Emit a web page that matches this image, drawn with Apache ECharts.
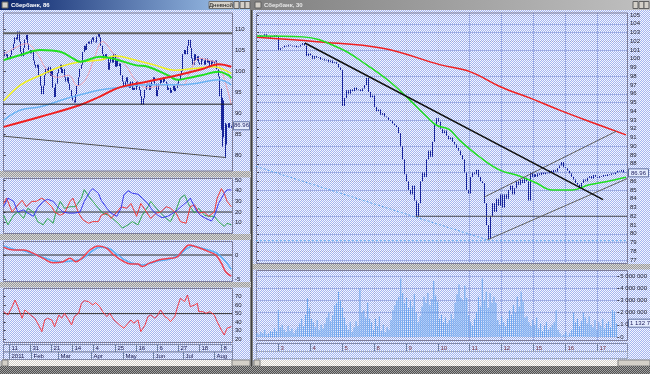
<!DOCTYPE html>
<html><head><meta charset="utf-8">
<script src="https://cdn.jsdelivr.net/npm/echarts@6/dist/echarts.min.js"></script>
<style>html,body{margin:0;padding:0;background:#c0c0c0}#c{width:650px;height:374px}</style>
</head><body><div id="c"></div>
<script>
// ================= DATA =================
// Left panel: daily bars (Jan 2011 - 17 Aug 2011), closes
const leftClose = [
104.5,103.5,104.0,103.0,102.8,103.8,105.0,106.5,108.0,107.5,
109.4,107.0,104.5,103.5,105.5,107.5,108.6,106.5,105.0,104.2,
105.0,102.5,101.5,100.8,101.5,99.0,96.5,94.5,96.5,99.0,
100.5,99.5,101.0,98.8,100.0,96.0,93.8,97.0,99.5,100.5,
101.5,99.5,100.5,98.5,97.5,98.5,97.0,95.5,94.0,93.0,
92.5,94.5,96.5,98.5,100.5,101.5,104.5,106.0,105.0,106.5,
107.0,106.5,107.5,108.0,107.0,106.8,108.2,109.0,108.0,106.0,
104.0,102.8,104.0,103.0,100.3,102.0,103.5,102.0,104.0,101.0,
102.5,101.2,101.8,99.0,97.5,96.2,97.5,98.5,97.0,96.0,
97.5,95.5,96.0,95.5,97.5,96.3,95.5,94.0,92.0,93.5,
95.5,96.5,97.0,95.5,96.5,97.5,98.5,97.0,94.0,95.5,
97.0,98.0,97.2,98.5,97.5,97.0,95.5,96.0,94.8,95.5,
96.5,95.2,96.0,97.0,98.0,99.0,100.0,104.0,105.0,104.0,
106.0,107.4,105.5,103.0,101.5,104.0,102.5,103.5,102.0,101.5,
103.0,102.5,101.5,103.0,102.0,102.5,101.0,102.5,101.8,102.3,
102.5,100.4,98.7,95.8,86.8,93.0,84.6,84.0,86.5,87.6,86.5,86.96];
// [barIndex, low, high] of the wide August bars
const leftRange = [[153,94.0,98.7],[154,86.0,95.8],[155,82.0,93.6],[156,84.2,93.0],[157,79.3,87.6],[158,82.5,87.3]];
const leftRedMA = [[0,86.7],[26,89.1],[54,91.9],[68,93.9],[82,96.1],[102,97.5],[123,99],[140,100.4],[152,101.6],[161,101]];
const leftBlueMA = [[0,88.3],[12,90.7],[26,91.5],[45,93.5],[68,95.5],[82,96.1],[102,96.7],[126,96.7],[137,97.1],[152,97.9],[161,96.7]];
const leftYellowMA = [[0,92.9],[12,96.7],[26,99],[40,101],[54,102.2],[68,102.6],[79,103.6],[93,102.6],[107,101.4],[121,100.2],[135,100.6],[149,101],[159,99.8],[161,99.4]];
const leftGreenMA = [[0,102.6],[12,103.8],[26,105],[40,104.6],[49,103],[54,102.2],[68,103.4],[79,102.8],[93,101.4],[102,101],[116,99],[123,97.9],[130,98.3],[140,99],[152,99.8],[159,99],[161,98.3]];
const leftPinkMA = [[0,104],[8,105.5],[16,106.5],[24,104],[30,100.5],[38,98.5],[46,99],[52,96.5],[58,98],[64,103],[70,107],[78,104],[86,101.5],[94,97.5],[102,96],[110,96.5],[118,96.8],[126,96.5],[132,100],[138,103],[146,102.5],[152,101.5],[157,97],[161,92]];
const leftLevels = [109.0, 92.1];
const leftDiag = [[-0.5,84.5],[157,79.4]];
// DMI panel
const dmiBlue = [[0,25],[3,33],[7,30],[10,20],[14,22],[17,19],[21,16],[24,24],[28,30],[31,32],[35,30],[38,25],[42,20],[46,19],[50,19],[54,20],[57,30],[61,39],[63,42],[67,37.6],[69,31],[73,23.5],[76,19],[80,16],[83,23.5],[85,36],[88,40],[91,37.6],[95,36.7],[98,33],[102,28],[105,22],[109,17],[112,14.7],[116,16],[120,19],[123,22],[127,26.7],[130,30],[132,33],[136,22],[139,17],[143,14],[147,11.6],[149,16],[152,28],[156,37.6],[158,40.7],[161,40.7]];
const dmiRed = [[0,28],[2,33],[6,20],[9,25],[13,31],[16,25],[20,30],[23,30],[27,33],[30,30],[34,25],[36,20],[40,17],[43,19],[47,30],[49,33],[53,19],[56,12.7],[60,9.5],[63,11],[67,11],[69,17],[73,19],[76,14],[80,20],[83,25],[87,23.5],[90,28],[94,16],[97,28],[101,20],[104,14],[108,19],[111,20],[115,25],[118,23.5],[122,19],[125,11],[129,9.5],[132,25],[135,26.7],[138,19],[142,20],[145,16],[149,20],[151,33],[154,42],[156,37.6],[158,30],[161,25]];
const dmiGreen = [[0,17],[3,8],[7,17],[10,20],[14,14],[17,23.5],[21,20],[24,11],[28,8],[31,14],[35,9.5],[37,20],[40,30],[43,23.5],[47,25],[51,25],[55,33],[57,41],[60,35],[63,30],[67,23.5],[70,19],[74,17],[77,14],[81,9.5],[84,5],[88,8],[91,11],[95,8],[98,17],[102,25],[104,30],[108,23.5],[111,19],[115,14],[118,11],[122,22],[125,33],[128,36],[131,26.7],[135,19],[138,23.5],[142,17],[145,16],[149,16],[152,11],[156,6.5],[158,9.5],[161,8]];
const dmiLevel = 20;
// MACD panel
const macdRed = [[0,1.6],[7,1.04],[14,1.04],[21,0.35],[28,-0.7],[35,-1.6],[42,-1.4],[47,-0.7],[51,-1.4],[56,-0.5],[61,1.04],[67,1.9],[73,1.4],[78,0],[84,-1.2],[90,-1.9],[95,-1.9],[98,-2.4],[103,-1.7],[108,-1.2],[112,-0.9],[117,-0.7],[122,-0.5],[127,1.04],[131,2.1],[136,1.7],[141,1.2],[145,0.7],[150,0],[154,-1.7],[157,-3.5],[161,-4.4]];
const macdBlue = [[0,1.9],[7,1.2],[14,0.9],[21,0.2],[28,-0.5],[35,-1.2],[42,-1.4],[49,-1.2],[56,-0.7],[62,0.7],[68,1.6],[74,1.4],[80,0.2],[85,-0.9],[91,-1.7],[98,-2.1],[104,-1.7],[110,-1.2],[117,-0.9],[124,0],[129,1.2],[134,1.9],[138,1.6],[145,1.04],[151,0.35],[156,-1.0],[161,-3.0]];
const macdLevel = 0;
// RSI panel
const rsiRed = [[0,52.3],[3,48.4],[6,58.2],[8,66.1],[10,58.2],[13,44.5],[15,54.3],[19,48.4],[22,44.5],[24,38.6],[27,28.7],[29,42.5],[31,44.5],[34,42.5],[36,34.6],[39,48.4],[41,44.5],[43,50.4],[46,42.5],[48,36.6],[50,46.5],[53,50.4],[55,62.2],[57,65.3],[60,64.2],[63,60.2],[65,63],[68,58.2],[70,52.3],[73,46.5],[75,50.4],[78,42.5],[82,36.6],[85,32.7],[88,38.6],[90,42.5],[92,38.6],[95,42.5],[97,28.7],[100,36.6],[102,46.5],[104,48.4],[107,44.5],[109,48.4],[111,54.3],[114,46.5],[116,44.5],[118,40.5],[121,46.5],[123,58.2],[125,68.1],[128,64.2],[130,72],[132,58.2],[135,60.2],[137,62.2],[138,52.3],[141,52.3],[143,50.4],[146,52.3],[149,48.4],[151,40.5],[154,30.6],[156,24.7],[158,32.7],[161,34.6]];
const rsiLevel = 50;
// Left date axis
const leftDayTicks = [4,19,34,49,64,79,94,109,124,139,154];
const leftDayLabels = ['11','31','21','14','4','25','16','6','27','18','8'];
const leftMonthTicks = [4,20,39,62,85,106,127,149];
const leftMonthLabels = ['2011','Feb','Mar','Apr','May','Jun','Jul','Aug'];

// Right panel: 30-minute bars, 2 Aug - 17 Aug 2011
const rightClose = [
102.6,102.7,102.5,102.6,102.8,102.5,102.4,102.6,102.5,102.7,102.5,
101.0,101.2,101.3,101.5,101.4,101.6,101.5,101.4,101.5,101.3,101.4,101.6,101.8,101.5,100.3,100.6,
100.4,100.0,100.3,100.1,100.2,99.9,100.0,99.8,99.9,99.6,99.8,99.5,99.6,99.4,99.0,98.7,
94.6,95.5,96.4,96.0,96.5,96.3,96.7,96.4,96.5,96.3,96.6,97.0,97.8,96.2,95.6,95.8,
94.5,94.0,94.2,93.6,93.8,93.4,93.3,93.0,92.9,92.6,92.4,92.2,91.5,90.0,88.5,86.8,
86.0,85.0,84.5,85.5,83.8,82.0,83.5,86.0,87.0,86.5,88.5,89.5,88.8,90.5,92.5,93.2,
92.8,92.0,91.5,91.8,91.2,90.8,91.0,90.5,90.2,89.8,89.5,89.0,88.5,87.0,85.0,84.6,
86.5,87.0,86.8,87.3,86.5,86.0,85.8,83.5,81.0,79.4,82.0,83.5,82.5,84.0,83.2,84.5,
83.0,84.5,84.0,85.0,85.5,84.5,85.2,86.0,85.6,86.2,85.8,86.4,86.0,83.8,87.0,86.5,
86.8,86.5,86.9,86.7,87.0,86.8,87.0,86.9,87.2,87.0,87.3,87.1,87.5,87.8,88.2,87.6,
87.5,87.2,86.9,86.5,86.2,85.8,85.6,85.2,85.8,86.2,86.0,86.4,86.6,86.3,86.7,86.5,
86.4,86.6,86.5,86.7,86.6,86.8,86.7,86.9,86.8,87.0,87.2,87.1,87.3,87.0,86.96];
// volume in millions of shares
const rightVolM = [
0.3,0.2,0.4,0.3,0.6,0.2,0.3,0.5,0.4,0.7,0.5,
2.2,0.8,1.0,0.6,0.4,0.9,0.5,0.7,0.3,0.6,0.8,1.1,1.5,0.9,1.8,3.2,
2.4,1.5,1.2,0.8,1.4,0.6,1.0,0.7,1.1,1.6,2.0,1.3,1.8,2.6,2.8,3.7,
3.0,2.4,1.6,1.0,0.6,1.2,0.4,0.8,1.3,0.9,4.0,2.0,2.2,1.6,2.8,1.5,
1.2,0.6,1.5,0.9,1.7,0.5,1.0,0.4,0.8,0.6,1.4,2.2,2.6,3.0,3.3,4.8,
3.6,2.8,3.2,2.4,3.0,2.5,3.5,2.0,1.2,1.7,2.5,3.3,2.8,3.6,2.6,3.1,
4.6,3.4,2.9,1.5,1.8,1.2,1.6,1.1,1.4,1.9,1.5,2.8,3.5,4.3,3.2,3.0,
4.2,3.2,1.8,1.2,0.9,1.5,2.0,3.3,2.5,4.8,3.0,3.7,2.4,3.6,2.8,3.3,
2.8,1.4,1.0,1.7,1.2,0.9,1.5,2.2,1.8,2.6,2.0,3.3,2.5,3.7,2.9,1.6,
1.7,1.2,0.9,1.4,1.0,1.6,0.7,1.1,0.5,0.9,1.2,0.6,0.8,1.0,1.2,2.2,
0.6,0.3,0.1,0.2,0.4,0.1,0.3,0.6,2.0,1.2,1.5,0.9,1.3,2.0,1.6,1.1,
1.7,1.0,0.8,1.4,0.6,1.2,0.9,1.5,0.7,1.1,1.3,0.8,2.2,2.1,1.13];
const rightDayStarts = [11,27,43,59,75,91,107,123,139,155,171];
const rightDayLabels = ['3','4','5','8','9','10','11','12','15','16','17'];
const rightRedMA = [[0,102.45],[30,101.95],[63,101.2],[92,99.3],[107,98.5],[122,96.8],[137,95.5],[152,94.1],[167,92.8],[185,91.3]];
const rightGreenMA = [[0,102.6],[23,102.5],[41.5,101.2],[55,99.3],[66.5,97.4],[76.5,95.3],[85,93.4],[90,92.4],[96.5,91.9],[101.5,90.7],[111.5,88.8],[121.5,87.3],[131.5,86.6],[140,85.8],[148,85],[158,85],[166.5,85.6],[175,85.95],[185,86.45]];
const trendLine = [[24,101.8],[173.5,83.9]];
const channelUp = [[114,84.2],[180,91.7]];
const channelLow = [[115.5,79.3],[185.5,86.3]];
const support = [[79.5,82],[185.5,82]];
const blueDiag = [[-0.5,87.7],[115.5,79.3]];
const blueLevel = 79.2;
const lastPrice = 86.96;
const lastVolume = 1132700;

// ================= CHART =================
const chart = echarts.init(document.getElementById('c'), null, {renderer:'canvas'});
const FONT = '"Liberation Sans", Arial, sans-serif';
function checker(a,b){const c=document.createElement('canvas');c.width=2;c.height=2;const g=c.getContext('2d');g.fillStyle=a;g.fillRect(0,0,2,2);g.fillStyle=b;g.fillRect(1,0,1,1);g.fillRect(0,1,1,1);return {image:c,repeat:'repeat'};}
const bgLight = checker('#f4f6ff','#a4b6f0');
const bgGray = checker('#d8d8d8','#9a9a9a');
const bgDark = checker('#a0a0a0','#505050');

function candles(closes, ranges){
  const r = {}; (ranges||[]).forEach(d=>{r[d[0]]=d;});
  return closes.map((c,i)=>{const o=i?closes[i-1]:c; let lo=Math.min(o,c), hi=Math.max(o,c);
    if(r[i]){lo=Math.min(lo,r[i][1]);hi=Math.max(hi,r[i][2]);} return [o,c,lo,hi];});
}
const NL = leftClose.length, NR = rightClose.length;
const catL = leftClose.map((_,i)=>i), catR = rightClose.map((_,i)=>i);
const leftLevelsData = leftLevels.map(v=>[[-0.5,v],[NL-0.5,v]]);

function ln(xa, ya, data, color, width, extra){
  return Object.assign({type:'line', xAxisIndex:xa, yAxisIndex:ya, data, symbol:'none', showSymbol:false, clip:false,
    silent:true, lineStyle:{color, width}}, extra||{});
}
const axLab = {fontSize:6, fontFamily:FONT, color:'#202030', margin:3};
const hx = (gi, type, data, extra)=>Object.assign({gridIndex:gi, type, show:false, data}, extra||{});
const ya = (gi, min, max, interval, extra)=>Object.assign({gridIndex:gi, type:'value', position:'right', min, max, interval,
  axisLine:{show:false}, axisTick:{show:true, length:2, lineStyle:{color:'#404050'}}, splitLine:{show:false},
  axisLabel:Object.assign({}, axLab)}, extra||{});

const option = {
  animation:false,
  backgroundColor:'#c0c0c0',
  grid:[
    {left:3, top:29, width:229, height:126},      // 0 left price
    {left:3, top:180, width:229, height:42.7},    // 1 DMI
    {left:3, top:255, width:229, height:24},      // 2 MACD
    {left:3, top:296.7, width:229, height:42.3},  // 3 RSI
    {left:256, top:15, width:371, height:245},    // 4 right price
    {left:256, top:276, width:371, height:61}     // 5 volume
  ],
  xAxis:[
    hx(0,'category',catL),
    hx(0,'value',null,{min:-0.5,max:NL-0.5}),
    hx(1,'value',null,{min:-0.5,max:NL-0.5}),
    hx(2,'value',null,{min:-0.5,max:NL-0.5}),
    hx(3,'value',null,{min:-0.5,max:NL-0.5}),
    hx(4,'category',catR),
    hx(4,'value',null,{min:-0.5,max:NR-0.5}),
    hx(5,'category',catR)
  ],
  yAxis:[
    ya(0,80,110,5),
    ya(1,10,50,10),
    ya(2,-5,0,5),
    ya(3,20,70,10),
    ya(4,77,105,1,{splitLine:{show:true,lineStyle:{color:'#98a4d8',type:'dotted',width:1}}}),
    ya(5,0,5,1,{splitLine:{show:true,lineStyle:{color:'#98a4d8',type:'dotted',width:1}},
      axisLabel:Object.assign({}, axLab, {formatter:v=>String(Math.round(v*1000000)).replace(/\B(?=(\d{3})+(?!\d))/g,' ')})})
  ],
  series:[
    // left price panel
    ln(1,0,leftPinkMA,'#f2a4b4',1,{smooth:0.4}),
    ln(1,0,leftBlueMA,'#6cb4f4',1.5,{smooth:0.4}),
    ln(1,0,leftYellowMA,'#f0f020',1.5,{smooth:0.4}),
    ln(1,0,leftGreenMA,'#20e020',2,{smooth:0.4}),
    ln(1,0,leftRedMA,'#f02020',2,{smooth:0.4}),
    ln(1,0,leftLevelsData[0],'#606060',2),
    ln(1,0,leftLevelsData[1],'#202020',1),
    ln(1,0,leftDiag,'#505050',1),
    {type:'candlestick', xAxisIndex:0, yAxisIndex:0, data:candles(leftClose,leftRange), barWidth:1, clip:false, silent:true,
      itemStyle:{color:'#2838b8',color0:'#2838b8',borderColor:'#18249a',borderColor0:'#18249a',borderWidth:1}},
    // DMI
    ln(2,1,[[-0.5,dmiLevel],[NL-0.5,dmiLevel]],'#303030',1),
    ln(2,1,dmiGreen,'#30a850',1),
    ln(2,1,dmiRed,'#f03a3a',1),
    ln(2,1,dmiBlue,'#3a3af0',1),
    // MACD
    ln(3,2,[[-0.5,macdLevel],[NL-0.5,macdLevel]],'#303030',1),
    ln(3,2,macdBlue,'#58b0f8',1.5,{smooth:0.4}),
    ln(3,2,macdRed,'#f04050',1.5,{smooth:0.4}),
    // RSI
    ln(4,3,[[-0.5,rsiLevel],[NL-0.5,rsiLevel]],'#303030',1),
    ln(4,3,rsiRed,'#f03a48',1),
    // right price panel
    ln(6,4,[[-0.5,blueLevel],[NR-0.5,blueLevel]],'#58a8f0',1,{lineStyle:{color:'#58a8f0',width:1,type:[2,2]}}),
    ln(6,4,blueDiag,'#58a8f0',1,{lineStyle:{color:'#58a8f0',width:1,type:[2,2]}}),
    ln(6,4,rightRedMA,'#f02020',1.5,{smooth:0.4}),
    ln(6,4,rightGreenMA,'#20e020',1.5,{smooth:0.4}),
    ln(6,4,support,'#505050',1),
    ln(6,4,channelUp,'#606060',1),
    ln(6,4,channelLow,'#606060',1),
    {type:'candlestick', xAxisIndex:5, yAxisIndex:4, data:candles(rightClose), barWidth:1, clip:false, silent:true,
      itemStyle:{color:'#2838b8',color0:'#2838b8',borderColor:'#18249a',borderColor0:'#18249a',borderWidth:1}},
    ln(6,4,trendLine,'#101010',1.5),
    // volume
    {type:'bar', xAxisIndex:7, yAxisIndex:5, data:rightVolM, barWidth:1, silent:true, itemStyle:{color:'#6aa6ee'}}
  ]
};
chart.setOption(option);

// ---------- frame / decorations placed through the library's scales ----------
const px = (xa,v)=>chart.convertToPixel({xAxisIndex:xa}, v);
const py = (yaI,v)=>chart.convertToPixel({yAxisIndex:yaI}, v);
const G = [];
const rect = (x,y,w,h,fill,stroke,z,lw)=>G.push({type:'rect', z:z==null?-5:z, silent:true, shape:{x,y,width:w,height:h}, style:{fill:fill||'none', stroke:stroke||null, lineWidth:lw||1}});
const line = (x1,y1,x2,y2,stroke,z,dash)=>G.push({type:'line', z:z==null?-4:z, silent:true, shape:{x1,y1,x2,y2}, style:{stroke, lineWidth:1, lineDash:dash||null}});
const text = (t,x,y,fill,size,align,z,weight)=>G.push({type:'text', z:z==null?20:z, silent:true, style:{text:t, x, y, fill, font:(weight||'normal')+' '+(size||6)+'px '+FONT, textAlign:align||'left', textVerticalAlign:'middle'}});

// panel backgrounds
rect(0,10,251,351,bgLight,null,-10);
rect(253,10,397,351,bgLight,null,-10);
rect(250,0,3,366,'#808080',null,-9);
line(251.5,10,251.5,366,'#404040',-8);
// gray bands between left panels and right panels
rect(0,171,251,6.5,bgGray,null,-9);
rect(0,234,251,6,bgGray,null,-9);
rect(0,282,251,5.5,bgGray,null,-9);
rect(253,264,397,5.5,bgGray,null,-9);
// plot borders
const borders = [[3,12.5,229,158],[3,178,229,55],[3,241,229,40],[3,288,229,54],[256,12.5,371,250.5],[256,270,371,70]];
borders.forEach(b=>rect(b[0]+0.5,b[1]+0.5,b[2],b[3],null,'#7c7c98',-3));
// right vertical day gridlines
rightDayStarts.forEach(s=>{const x=Math.round(px(6,s-0.5))+0.5; line(x,13,x,263,'#98a4d8',-4,[1,1]); line(x,271,x,340,'#98a4d8',-4,[1,1]);});
// right date row
rect(256.5,343.5,371,8,bgLight,'#8088a8',-3);
rect(256.5,351.5,371,7,bgLight,'#a0a8c0',-3);
rightDayStarts.forEach((s,i)=>{const x=Math.round(px(6,s-0.5))+0.5; line(x,344,x,351,'#7080a0',-2); text(rightDayLabels[i],x+2,348,'#703040',6);});
// left date rows
rect(3.5,344.5,229,7.5,bgLight,'#8088a8',-3);
rect(3.5,352,229,7.5,bgLight,'#8088a8',-3);
leftDayTicks.forEach((s,i)=>{const x=Math.round(px(4,s-0.5))+0.5; line(x,345,x,352,'#7080a0',-2); text(leftDayLabels[i],x+2,348.5,'#202050',6);});
leftMonthTicks.forEach((s,i)=>{const x=Math.round(px(4,s-0.5))+0.5; line(x,352,x,359.5,'#7080a0',-2); text(leftMonthLabels[i],x+2,356,'#202050',6);});
// scrollbars
rect(2,360,248,6,checker('#ffffff','#d4d0c8'),null,-2);
rect(2,360,6,6,'#d4d0c8','#808080',-1);
rect(232,360,18,6,'#d4d0c8','#808080',-1);
rect(254,360,396,6,checker('#ffffff','#d4d0c8'),null,-2);
rect(254,360,6,6,'#d4d0c8','#808080',-1);
rect(618,360,32,6,'#d4d0c8','#808080',-1);
// bottom strip
rect(0,366,650,8,bgDark,null,-1);
// title bars
G.push({type:'rect', z:-1, silent:true, shape:{x:0,y:0,width:250,height:10}, style:{fill:{type:'linear',x:0,y:0,x2:1,y2:0,colorStops:[{offset:0,color:'#0a246a'},{offset:1,color:'#a6caf0'}]}}});
rect(2,2,6,6,'#d4d0c8','#606060',0);
text('Сбербанк, 86',11,5,'#ffffff',6,'left',20,'bold');
rect(209,1.5,24,7,'#d4d0c8','#707070',0);
text('Дневной',221,5,'#202020',6,'center',20);
[234,240,245].forEach(x=>rect(x,1.5,5,7,'#d4d0c8','#606060',0));
G.push({type:'rect', z:-1, silent:true, shape:{x:253,y:0,width:397,height:10}, style:{fill:{type:'linear',x:0,y:0,x2:1,y2:0,colorStops:[{offset:0,color:'#808080'},{offset:1,color:'#c0c0c0'}]}}});
rect(255,2,6,6,'#d4d0c8','#606060',0);
text('Сбербанк, 30',264,5,'#e8e8e8',6,'left',20,'bold');
[633,639,644].forEach(x=>rect(x,1.5,5,7,'#d4d0c8','#606060',0));
// last value boxes
const yL = py(0,lastPrice), yR = py(4,lastPrice), yV = py(5,lastVolume/1000000);
rect(233.5,yL-4,16,8,'#e4ecff','#6070a0',15); text(lastPrice.toFixed(2),241.5,yL,'#202060',6,'center',21);
rect(628.5,yR-4,20,8,'#e4ecff','#6070a0',15); text(lastPrice.toFixed(2),638.5,yR,'#202060',6,'center',21);
rect(628.5,yV-4,24,8,'#e4ecff','#6070a0',15); text(String(lastVolume).replace(/\B(?=(\d{3})+(?!\d))/g,' '),630,yV,'#202060',6,'left',21);

chart.setOption({graphic:{elements:G}});
</script></body></html>
